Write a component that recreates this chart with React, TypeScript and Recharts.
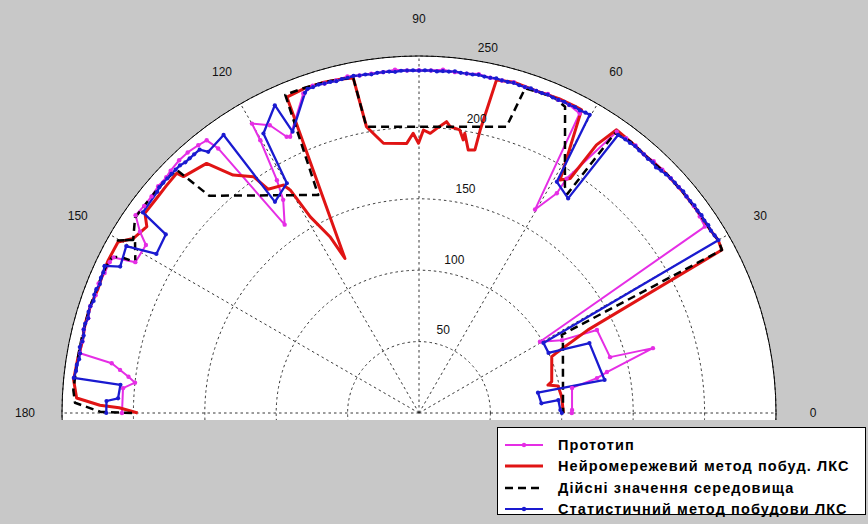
import {
  Legend,
  PolarAngleAxis,
  PolarGrid,
  PolarRadiusAxis,
  Radar,
  RadarChart,
} from "recharts";

type Pt = [number, number]; // [angle in degrees, range]

const FONT = '"Liberation Sans", Arial, sans-serif';
const BG = "#c8c8c8";

const angleTicks = [0, 30, 60, 90, 120, 150, 180];

const seriesNames = [
  "Прототип",
  "Нейромережевий метод побуд. ЛКС",
  "Дійсні значення середовища",
  "Статистичний метод побудови ЛКС",
];

const prototype: Pt[] = [
  [180, 208], [175.2, 208], [173.9, 200], [172.9, 205], [171.8, 211.5], [170.8, 218], [170, 241],
  [168, 241], [166, 242], [164, 241], [162, 242], [160, 241], [158, 242], [156, 241], [154, 241], [153, 240],
  [152, 225], [148.4, 224.5], [147, 233], [145.1, 242],
  [143, 241], [141, 241], [139, 242], [137, 242], [135.7, 243], [133.5, 244], [131.6, 244], [129.5, 243], [127.9, 242],
  [127.2, 232.6], [125.5, 162], [122.5, 177], [121.4, 191], [120.2, 221], [120, 234], [117.4, 227], [115.6, 214.5], [115, 213.5], [109.9, 238],
  [108, 241], [106, 240], [104, 240], [102, 241], [100, 240], [98, 240], [96, 240], [94, 241], [92, 240], [90, 240],
  [88, 240], [86, 241], [84, 240], [82, 240], [80, 241], [78, 240], [76, 240], [74, 241], [72, 240], [70, 240],
  [68, 241], [66, 240], [64, 240], [61.8, 238],
  [60.3, 164], [57.9, 181.6], [57.8, 194], [54.9, 240.8],
  [53, 241], [51, 241], [49, 240], [47, 241], [45, 241], [43, 241], [41, 241], [39, 241], [37, 241], [35, 240], [33.1, 239],
  [30.5, 98.3], [27, 112.4], [25, 137.5], [16.3, 139.4], [15.5, 170], [12.3, 134.7], [11.1, 127], [9.3, 108.6], [1.1, 107.2], [0, 107],
];

const neural: Pt[] = [
  [180, 197], [179, 210], [178.6, 223.5], [177.5, 240], [174.5, 243],
  [171, 242], [168, 241], [165, 242], [162, 242], [159, 241], [156, 242], [153.8, 242.5], [150.4, 242.4],
  [148.6, 234.5], [145.6, 231], [143.9, 237.5], [140.7, 237.4], [138, 238], [135.3, 238.7],
  [134.9, 233.7], [130.4, 229.5], [128, 211.4], [125, 202], [124, 189], [120.8, 185.8], [120, 180.4], [119, 157], [116.8, 138.3], [115.6, 120],
  [112.7, 239.8], [109.6, 241], [106, 241], [103, 240], [101.1, 239],
  [100.4, 203.8], [98.7, 195.7], [97.5, 190.5], [92.6, 189], [91.2, 195.9], [90.1, 188.9], [89.1, 198.2], [87.7, 196],
  [86.4, 199.7], [84.6, 204.9], [83.8, 201.7], [81.8, 200.3], [80.8, 193.7], [80.7, 198.5], [79.4, 187.4], [78, 188.3],
  [77.8, 202.7], [77.4, 217.4], [76.9, 239.5],
  [74, 241], [70, 240], [66, 241], [63, 241], [61.8, 240.9],
  [58.8, 190.7], [57.2, 195.4], [56.5, 225.2], [55.1, 241.8],
  [52, 241], [48, 240], [44, 241], [40, 241], [36, 241], [32, 241], [30, 242], [28.3, 240.8],
  [26.2, 131.9], [23.5, 104], [23, 101], [13.3, 95.5], [12.2, 92.4], [11, 99.2], [6.4, 100.6], [0.5, 101], [0, 101],
];

const real: Pt[] = [
  [180, 201], [179.8, 223], [178.3, 241], [176.2, 242.6],
  [173, 242], [170, 242], [167, 242], [164, 242], [161, 242], [158, 242], [155, 242], [153.1, 241],
  [152.4, 236], [152, 225], [148.6, 233], [150.2, 243], [148.8, 234], [145.5, 241.3],
  [143, 241], [140, 241], [137, 241], [134.9, 240.3],
  [134, 211.5], [114.8, 168.2], [112.8, 241.7], [109.6, 241.4],
  [106, 241], [103, 240], [101.1, 238.9],
  [100.4, 203.8], [73, 209.7], [71.9, 239.2],
  [69, 240], [66.5, 240], [64.5, 237.6],
  [57.2, 188.6], [55.9, 185.1], [55, 239.2],
  [52, 241], [48, 240], [44, 241], [40, 241], [36, 241], [32, 241], [30, 242], [28.3, 241],
  [28.7, 113.9], [26.9, 113], [3.2, 101], [0, 101],
];

const statistical: Pt[] = [
  [180, 219], [177.8, 219], [177.2, 211], [174.6, 210], [174.2, 243],
  [173, 242], [172, 242], [171, 241], [170, 241], [169, 242], [168, 241], [167, 241], [166, 242], [165, 242], [164, 241],
  [163, 242], [162, 242], [161, 241], [160, 242], [159, 242], [158, 241], [157, 242], [156, 242], [155, 243],
  [154.9, 243], [153.9, 233], [150.3, 236], [148.8, 215], [144.8, 217], [144, 239], [139.8, 240],
  [139, 241], [138, 241], [137, 241], [136, 241], [135, 241], [134, 241], [133, 240], [132, 240], [131, 240],
  [129.8, 240], [128.9, 235], [125.1, 238],
  [124.3, 179], [119.9, 185.6], [119.1, 224], [115.1, 238], [114.2, 216], [109.6, 238],
  [109, 240], [108, 240], [107, 240.5], [106, 240], [105, 240], [104, 239.5], [103, 240], [102, 240], [101, 240.5], [100, 240],
  [99, 240], [98, 239.5], [97, 240], [96, 240], [95, 240], [94, 239.5], [93, 240], [92, 240], [91, 240], [90, 239.7],
  [89, 240], [88, 240], [87, 239.5], [86, 240], [85, 240], [84, 240.5], [83, 240], [82, 240], [81, 240], [80, 240.5],
  [79, 240], [78, 240], [77, 240.5], [76, 240], [75, 240], [74, 240.5], [73, 240], [72, 240], [71, 240.5], [70, 240],
  [69, 240], [68, 240.5], [67, 240], [66, 240], [65, 240.5], [64, 240], [63, 240.5], [62, 240], [61, 240.5], [60.2, 240.6],
  [59.2, 188.5], [55.2, 183], [54.4, 239.5],
  [53, 240], [52, 240], [51, 240.5], [50, 240], [49, 240], [48, 239.5], [47, 240], [46, 239], [45, 240], [44, 240.5],
  [43, 241], [42, 241], [41, 241], [40, 241.5], [39, 241], [38, 241], [37, 241.5], [36, 241], [35, 241.5], [34, 241],
  [33, 241.5], [32, 241], [31, 241.5], [30, 242],
  [29.4, 100], [24.9, 100], [22.3, 129], [10.1, 132], [9.7, 84.5], [4.5, 86], [5.3, 98], [1.2, 99], [0, 100],
];

// one shared table: each series gets its own rows, the other keys stay empty
function buildRows() {
  const rows: Record<string, number>[] = [];
  const add = (key: string, pts: Pt[]) => {
    pts.forEach(([a, r]) => rows.push({ a, [key]: r }));
  };
  add("proto", prototype);
  add("neural", neural);
  add("real", real);
  add("stat", statistical);
  return rows;
}

const valueOf = (p: any, dataKey: string) => {
  if (!p) return undefined;
  if (p.payload && typeof p.payload === "object") return p.payload[dataKey];
  return p[dataKey];
};

// open polyline through the points recharts placed, skipping rows of other series
const openPath = (props: any) => {
  const { points = [], stroke, strokeWidth, strokeDasharray, dataKey } = props;
  let d = "";
  let pen = false;
  points.forEach((p: any) => {
    const v = valueOf(p, dataKey);
    if (typeof v !== "number" || !Number.isFinite(v) || !Number.isFinite(p.x) || !Number.isFinite(p.y)) {
      pen = false;
      return;
    }
    d += `${pen ? "L" : "M"}${p.x},${p.y}`;
    pen = true;
  });
  return (
    <path
      d={d}
      fill="none"
      stroke={stroke}
      strokeWidth={strokeWidth}
      strokeDasharray={strokeDasharray}
      strokeLinejoin="round"
    />
  );
};

const makeDot = (color: string, r: number) => (props: any) => {
  const v = valueOf(props.payload, props.dataKey);
  if (typeof v !== "number" || !Number.isFinite(props.cx) || !Number.isFinite(props.cy)) {
    return <g key={`d-${props.index}`} />;
  }
  return <circle key={`d-${props.index}`} cx={props.cx} cy={props.cy} r={r} fill={color} stroke="none" />;
};

const AngleTick = (props: any) => {
  const { x, y, payload } = props;
  return (
    <text x={x} y={y} textAnchor="middle" dominantBaseline="central" fontSize={12} fill="#111" fontFamily={FONT}>
      {payload.value}
    </text>
  );
};

const RadiusTick = (props: any) => {
  const { x, y, payload } = props;
  if (!payload || payload.value === 0) return <g />;
  return (
    <text x={x + 13} y={y - 12} textAnchor="middle" dominantBaseline="central" fontSize={12} fill="#111" fontFamily={FONT}>
      {payload.value}
    </text>
  );
};

const legendRows = [
  { color: "#e52ee5", width: 2, dash: undefined as string | undefined, dot: true },
  { color: "#e01414", width: 3, dash: undefined as string | undefined, dot: false },
  { color: "#000000", width: 2.5, dash: "8 5", dot: false },
  { color: "#1a1ad0", width: 2, dash: undefined as string | undefined, dot: true },
];

function LegendBox() {
  return (
    <div
      style={{
        position: "relative",
        width: 369,
        height: 88,
        boxSizing: "border-box",
        background: "#fff",
        border: "1px solid #000",
        fontFamily: FONT,
        fontSize: 14.5,
        fontWeight: 700,
        color: "#000",
      }}
    >
      {legendRows.map((row, i) => (
        <div
          key={i}
          style={{
            position: "absolute",
            left: 0,
            top: 16.5 + i * 21.5 - 11,
            height: 22,
            display: "flex",
            alignItems: "center",
            whiteSpace: "nowrap",
          }}
        >
          <svg width={60} height={22}>
            <line x1={7} x2={45} y1={11} y2={11} stroke={row.color} strokeWidth={row.width} strokeDasharray={row.dash} />
            {row.dot ? <circle cx={26} cy={11} r={2.2} fill={row.color} /> : null}
          </svg>
          <span style={{ letterSpacing: 1.1 }}>{seriesNames[i]}</span>
        </div>
      ))}
    </div>
  );
}

export default function App() {
  const rows = buildRows();
  return (
    <div style={{ position: "absolute", left: 0, top: 0, width: 868, height: 524, background: BG, overflow: "hidden" }}>
      <div style={{ position: "absolute", left: 0, top: 0, width: 868, height: 420, overflow: "hidden" }}>
        <div
          style={{
            position: "absolute",
            left: 419 - 357,
            top: 413 - 357,
            width: 714,
            height: 714,
            borderRadius: "50%",
            background: "#fff",
          }}
        />
      </div>
      <RadarChart
        width={868}
        height={524}
        data={rows}
        cx={419}
        cy={413}
        innerRadius={0}
        outerRadius={357}
        startAngle={0}
        endAngle={180}
        margin={{ top: 0, right: 0, bottom: 0, left: 0 }}
      >
        <PolarGrid gridType="circle" stroke="#222" strokeWidth={0.9} strokeDasharray="2.5 3" />
        <PolarAngleAxis
          dataKey="a"
          type="number"
          domain={[0, 180]}
          ticks={angleTicks}
          tickCount={7}
          tickSize={37}
          tickLine={false}
          axisLineType="circle"
          axisLine={{ stroke: "#000", strokeWidth: 1 }}
          tick={AngleTick}
          allowDataOverflow
        />
        <PolarRadiusAxis
          angle={81}
          type="number"
          domain={[0, 250]}
          tickCount={6}
          axisLine={false}
          tick={RadiusTick}
        />
        <Radar
          dataKey="proto"
          name={seriesNames[0]}
          stroke="#e52ee5"
          strokeWidth={2}
          fill="none"
          fillOpacity={0}
          shape={openPath}
          dot={makeDot("#e52ee5", 2.2)}
          isAnimationActive={false}
        />
        <Radar
          dataKey="neural"
          name={seriesNames[1]}
          stroke="#e01414"
          strokeWidth={3}
          fill="none"
          fillOpacity={0}
          shape={openPath}
          dot={false}
          isAnimationActive={false}
        />
        <Radar
          dataKey="real"
          name={seriesNames[2]}
          stroke="#000"
          strokeWidth={2.5}
          strokeDasharray="8 5"
          fill="none"
          fillOpacity={0}
          shape={openPath}
          dot={false}
          isAnimationActive={false}
        />
        <Radar
          dataKey="stat"
          name={seriesNames[3]}
          stroke="#1a1ad0"
          strokeWidth={2.3}
          fill="none"
          fillOpacity={0}
          shape={openPath}
          dot={makeDot("#1a1ad0", 2.1)}
          isAnimationActive={false}
        />
        <Legend
          content={() => <LegendBox />}
          wrapperStyle={{ position: "absolute", left: 497, top: 427, width: 369, height: 88, zIndex: 2 }}
        />
      </RadarChart>
      <div style={{ position: "absolute", left: 0, top: 420, width: 868, height: 104, background: BG, zIndex: 1 }} />
    </div>
  );
}
